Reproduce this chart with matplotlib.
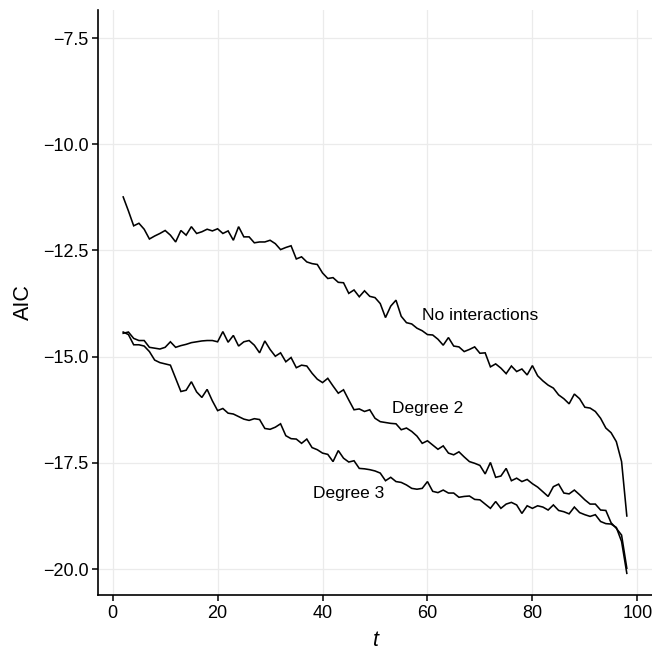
import matplotlib
matplotlib.use("Agg")
import matplotlib.pyplot as plt
import numpy as np

plt.rcParams['font.family'] = ['Liberation Sans', 'DejaVu Sans']

t = list(range(2, 99))

no_interactions = [
    -11.24, -11.57, -11.92, -11.86, -12.00, -12.23, -12.16, -12.10, -12.03, -12.14,
    -12.30, -12.03, -12.14, -11.94, -12.10, -12.06, -12.00, -12.04, -11.99, -12.10,
    -12.04, -12.26, -11.94, -12.18, -12.18, -12.32, -12.30, -12.30, -12.26, -12.34,
    -12.48, -12.43, -12.39, -12.70, -12.65, -12.77, -12.81, -12.83, -13.03, -13.16,
    -13.14, -13.25, -13.26, -13.51, -13.43, -13.59, -13.45, -13.58, -13.61, -13.75,
    -14.08, -13.81, -13.67, -14.05, -14.20, -14.23, -14.33, -14.39, -14.48, -14.49,
    -14.59, -14.73, -14.55, -14.75, -14.77, -14.88, -14.83, -14.77, -14.92, -14.91,
    -15.24, -15.17, -15.27, -15.40, -15.22, -15.35, -15.29, -15.43, -15.21, -15.45,
    -15.57, -15.67, -15.74, -15.90, -15.99, -16.11, -15.88, -15.99, -16.19, -16.21,
    -16.29, -16.45, -16.68, -16.79, -17.00, -17.47, -18.75,
]

degree2 = [
    -14.45, -14.42, -14.57, -14.62, -14.62, -14.78, -14.80, -14.82, -14.78, -14.65,
    -14.78, -14.74, -14.71, -14.67, -14.65, -14.63, -14.62, -14.62, -14.65, -14.41,
    -14.66, -14.50, -14.75, -14.65, -14.62, -14.73, -14.91, -14.63, -14.83, -14.99,
    -14.91, -15.12, -15.02, -15.26, -15.20, -15.22, -15.39, -15.53, -15.61, -15.51,
    -15.69, -15.86, -15.78, -16.02, -16.25, -16.23, -16.29, -16.25, -16.45, -16.53,
    -16.55, -16.57, -16.58, -16.72, -16.68, -16.76, -16.87, -17.04, -16.98, -17.08,
    -17.18, -17.10, -17.27, -17.31, -17.24, -17.36, -17.47, -17.51, -17.56, -17.76,
    -17.49, -17.84, -17.81, -17.63, -17.92, -17.86, -17.94, -17.89, -17.99, -18.07,
    -18.18, -18.29, -18.06, -18.00, -18.21, -18.23, -18.14, -18.25, -18.37, -18.47,
    -18.47, -18.61, -18.62, -18.91, -19.04, -19.20, -19.98,
]

degree3 = [
    -14.42, -14.48, -14.72, -14.72, -14.75, -14.88, -15.08, -15.14, -15.17, -15.20,
    -15.51, -15.82, -15.79, -15.59, -15.83, -15.96, -15.77, -16.04, -16.27, -16.22,
    -16.33, -16.35, -16.41, -16.47, -16.50, -16.46, -16.48, -16.69, -16.71, -16.66,
    -16.58, -16.86, -16.93, -16.94, -17.04, -16.94, -17.14, -17.19, -17.27, -17.30,
    -17.47, -17.21, -17.39, -17.48, -17.45, -17.63, -17.64, -17.66, -17.69, -17.74,
    -17.92, -17.84, -17.94, -17.96, -18.02, -18.10, -18.12, -18.10, -17.94, -18.17,
    -18.20, -18.14, -18.21, -18.21, -18.31, -18.29, -18.28, -18.36, -18.37, -18.47,
    -18.57, -18.41, -18.57, -18.47, -18.43, -18.49, -18.69, -18.51, -18.57, -18.51,
    -18.54, -18.61, -18.49, -18.62, -18.65, -18.70, -18.54, -18.67, -18.72, -18.76,
    -18.72, -18.88, -18.93, -18.94, -19.02, -19.35, -20.10,
]

labels = ["No interactions", "Degree 2", "Degree 3"]
label_x = [70, 60, 45]
label_y = [-14.02, -16.21, -18.23]

x_ticks = [0, 20, 40, 60, 80, 100]
y_ticks = [-20.0, -17.5, -15.0, -12.5, -10.0, -7.5]

fig = plt.figure(figsize=(6.52, 6.53), dpi=100)
ax = fig.add_axes([98/652, 1 - 595/653, 1 - 98/652, (595 - 10)/653])

for series in (no_interactions, degree2, degree3):
    ax.plot(t, series, color='black', lw=1.15, solid_joinstyle='miter')

for lab, lx, ly in zip(labels, label_x, label_y):
    ax.text(lx, ly, lab, ha='center', va='center', fontsize=12.5, color='black')

ax.set_xlim(-2.8, 102.8)
ax.set_ylim(-20.61, -6.84)
ax.set_xticks(x_ticks)
ax.set_yticks(y_ticks)
ax.set_yticklabels([f"{v:.1f}".replace('-', '\u2212') for v in y_ticks])
ax.set_xticklabels([str(v) for v in x_ticks])
ax.grid(True, color='#EBEBEB', lw=0.9)
ax.set_axisbelow(True)
for side in ('top', 'right'):
    ax.spines[side].set_visible(False)
for side in ('left', 'bottom'):
    ax.spines[side].set_linewidth(1.2)
    ax.spines[side].set_color('black')
ax.tick_params(axis='both', direction='out', length=4, width=1.1, colors='black',
               labelsize=13, pad=3)
ax.set_xlabel('t', fontsize=15.5, style='italic', labelpad=6)
ax.set_ylabel('AIC', fontsize=15.5, labelpad=6)

fig.savefig('out.png', dpi=100)
